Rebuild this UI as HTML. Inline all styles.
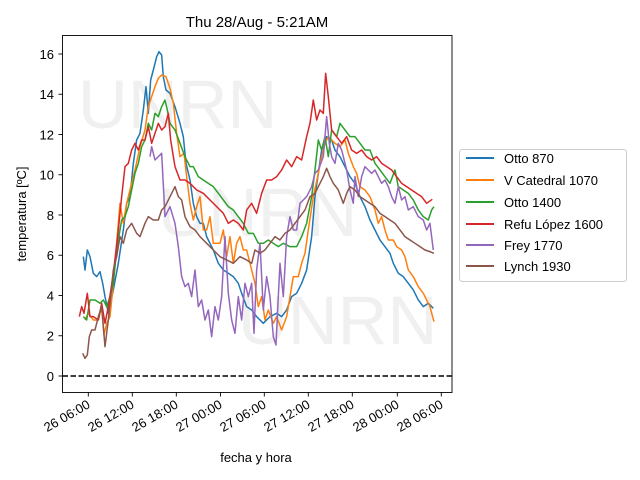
<!DOCTYPE html>
<html><head><meta charset="utf-8"><style>body{margin:0;background:#fff}svg{display:block}</style></head>
<body>
<svg width="640" height="480" xmlns="http://www.w3.org/2000/svg" font-family="Liberation Sans, DejaVu Sans, sans-serif">
<rect width="640" height="480" fill="#fff"/>
<g fill="#f0f0f0" font-size="69">
<text x="78" y="128">UNRN</text>
<text x="158" y="236">UNRN</text>
<text x="238" y="344">UNRN</text>
</g>
<g transform="translate(60,30) scale(0.3333)" fill="none" stroke-width="4.5" stroke-linejoin="round">
<polyline stroke="#1f77b4" points="70,680 75,720 82,660 90,680 100,730 110,740 120,725 128,760 135,800 145,850 160,780 175,700 190,600 200,520 210,500 220,400 230,330 240,310 250,240 258,170 265,250 272,150 280,120 290,80 297,65 305,75 310,140 318,180 330,190 345,230 360,280 370,320 378,400 390,450 400,520 410,560 420,580 430,580 440,620 450,640 460,660 475,700 490,720 505,730 520,740 535,760 545,790 560,830 575,840 590,860 610,880 630,860 650,850 665,860 680,840 695,800 710,790 725,760 740,720 755,620 765,500 775,430 785,360 800,320 815,330 825,360 840,380 855,410 870,440 885,460 900,500 915,530 930,570 945,600 960,630 975,650 990,670 1000,700 1015,730 1030,740 1045,760 1060,780 1075,810 1090,830 1105,820 1120,835"/>
<polyline stroke="#ff7f0e" points="75,870 85,850 100,870 115,870 125,830 132,915 140,880 150,860 160,760 170,640 180,520 190,580 200,520 210,480 225,420 240,350 255,300 265,230 275,200 285,170 295,145 305,135 318,140 330,175 340,220 350,310 360,380 372,370 380,440 390,520 400,570 410,530 420,500 430,600 440,600 450,560 460,640 470,640 480,640 490,600 500,680 510,620 520,700 530,640 540,620 550,660 560,660 575,720 585,760 595,830 605,800 615,870 625,840 640,880 650,860 665,900 680,860 690,800 700,740 715,740 725,700 735,670 745,600 760,500 775,430 785,380 795,340 805,320 815,330 825,340 840,350 855,330 865,370 880,410 890,430 900,470 915,480 930,500 945,540 955,580 965,560 975,600 985,630 1000,630 1010,650 1025,660 1035,680 1045,720 1060,740 1075,770 1090,790 1100,810 1110,830 1122,875"/>
<polyline stroke="#2ca02c" points="70,860 80,870 90,810 105,810 120,820 130,810 140,830 150,800 160,760 170,660 185,570 195,560 205,530 215,480 225,430 235,400 245,350 255,330 265,280 275,300 285,250 295,260 305,230 315,210 322,240 330,280 345,300 360,340 375,380 390,410 400,410 415,440 430,450 445,460 460,470 475,490 490,510 505,530 520,540 535,560 550,580 565,610 580,610 595,640 610,640 625,630 640,640 655,650 670,640 690,650 710,650 725,620 740,580 755,500 765,420 775,330 785,360 795,320 805,380 815,300 830,320 840,280 855,300 870,320 885,320 900,340 915,360 930,360 945,400 960,420 975,440 990,460 1005,420 1015,470 1030,480 1045,490 1060,510 1075,540 1090,560 1105,570 1115,540 1122,530"/>
<polyline stroke="#d62728" points="58,860 65,830 72,850 82,790 90,860 100,860 115,870 125,820 135,880 145,830 160,730 175,600 185,500 195,410 205,400 215,360 225,340 235,360 245,330 255,330 265,290 275,340 285,310 295,280 305,300 315,290 325,250 332,330 345,410 360,450 375,450 390,460 410,480 430,490 450,510 470,530 490,550 505,580 520,570 535,580 550,600 560,540 575,520 590,550 605,490 620,450 635,450 650,440 665,420 680,390 695,410 710,380 725,390 740,320 750,280 760,210 770,270 780,240 790,250 797,130 805,200 815,300 830,320 845,340 860,320 875,360 890,370 905,360 920,380 935,390 950,380 965,400 980,410 995,420 1010,440 1025,460 1040,470 1055,480 1070,490 1085,500 1100,520 1117,508"/>
<polyline stroke="#9467bd" points="270,380 275,350 285,390 295,380 305,370 315,560 330,530 345,580 355,650 365,740 375,770 385,760 395,800 405,720 415,830 425,810 435,870 445,840 455,920 465,830 475,870 485,800 495,620 505,790 515,870 525,910 535,800 545,870 555,760 565,800 575,760 582,910 590,720 600,640 610,840 620,740 630,800 640,920 648,945 655,800 660,700 670,800 680,620 690,560 700,600 710,600 720,520 730,510 740,500 755,470 765,430 775,420 790,380 800,260 808,340 815,380 825,400 835,340 845,360 860,420 870,480 880,520 885,440 895,500 905,440 915,410 925,420 935,430 945,420 955,440 965,460 975,450 985,470 995,500 1005,520 1015,470 1025,510 1035,500 1045,540 1060,530 1075,560 1090,570 1100,600 1110,580 1120,660"/>
<polyline stroke="#8c564b" points="68,970 75,985 82,975 88,920 95,900 105,900 115,860 125,830 135,950 145,870 160,720 170,680 180,620 190,640 200,600 215,580 230,610 240,620 255,580 265,560 280,570 295,570 305,540 315,530 330,500 345,470 355,500 365,510 375,560 390,590 405,600 420,620 440,640 460,660 480,680 500,690 520,700 540,680 560,690 575,700 585,660 600,670 615,660 630,640 645,620 660,630 675,610 690,600 705,580 720,560 735,540 750,500 765,490 780,460 790,440 800,415 810,440 820,460 835,480 850,520 860,490 870,470 885,480 900,500 915,510 930,520 945,530 960,550 975,560 990,570 1005,580 1020,600 1035,620 1050,630 1065,640 1080,650 1095,660 1110,665 1122,670"/>
</g>
<line x1="62.5" y1="376" x2="452" y2="376" stroke="#000" stroke-width="1.5" stroke-dasharray="5.5,2.5"/>
<rect x="62.5" y="35.5" width="389.5" height="357" fill="none" stroke="#000" stroke-width="0.9"/>
<g stroke="#000" stroke-width="0.9">
<line x1="58.5" x2="62.5" y1="376" y2="376"/><line x1="58.5" x2="62.5" y1="335.75" y2="335.75"/><line x1="58.5" x2="62.5" y1="295.5" y2="295.5"/><line x1="58.5" x2="62.5" y1="255.25" y2="255.25"/><line x1="58.5" x2="62.5" y1="215" y2="215"/><line x1="58.5" x2="62.5" y1="174.75" y2="174.75"/><line x1="58.5" x2="62.5" y1="134.5" y2="134.5"/><line x1="58.5" x2="62.5" y1="94.25" y2="94.25"/><line x1="58.5" x2="62.5" y1="54" y2="54"/>
<line x1="88.3" x2="88.3" y1="392.5" y2="396.5"/><line x1="132.3" x2="132.3" y1="392.5" y2="396.5"/><line x1="176.3" x2="176.3" y1="392.5" y2="396.5"/><line x1="220.5" x2="220.5" y1="392.5" y2="396.5"/><line x1="264.3" x2="264.3" y1="392.5" y2="396.5"/><line x1="308.3" x2="308.3" y1="392.5" y2="396.5"/><line x1="352.3" x2="352.3" y1="392.5" y2="396.5"/><line x1="397.3" x2="397.3" y1="392.5" y2="396.5"/><line x1="441.3" x2="441.3" y1="392.5" y2="396.5"/>
</g>
<g font-size="13" text-anchor="end" fill="#000">
<text x="54" y="381">0</text><text x="54" y="340.5">2</text><text x="54" y="300.5">4</text><text x="54" y="260">6</text><text x="54" y="220">8</text><text x="54" y="179.5">10</text><text x="54" y="139.5">12</text><text x="54" y="99">14</text><text x="54" y="59">16</text>
</g>
<g font-size="13" text-anchor="end" fill="#000">
<text transform="translate(91,407) rotate(-30)">26 06:00</text>
<text transform="translate(135,407) rotate(-30)">26 12:00</text>
<text transform="translate(179,407) rotate(-30)">26 18:00</text>
<text transform="translate(223,407) rotate(-30)">27 00:00</text>
<text transform="translate(267,407) rotate(-30)">27 06:00</text>
<text transform="translate(311,407) rotate(-30)">27 12:00</text>
<text transform="translate(355,407) rotate(-30)">27 18:00</text>
<text transform="translate(400,407) rotate(-30)">28 00:00</text>
<text transform="translate(444,407) rotate(-30)">28 06:00</text>
</g>
<text x="257" y="27" font-size="15" text-anchor="middle">Thu 28/Aug - 5:21AM</text>
<text x="256" y="462" font-size="13" text-anchor="middle">fecha y hora</text>
<text transform="translate(26,214) rotate(-90)" font-size="13" text-anchor="middle">temperatura [ºC]</text>
<rect x="459.5" y="149.5" width="167" height="132" rx="3" fill="#fff" stroke="#ccc" stroke-width="1"/>
<g stroke-width="2" font-size="13">
<line x1="466" x2="494" y1="158" y2="158" stroke="#1f77b4"/><text x="504" y="163">Otto 870</text>
<line x1="466" x2="494" y1="180" y2="180" stroke="#ff7f0e"/><text x="504" y="185">V Catedral 1070</text>
<line x1="466" x2="494" y1="202" y2="202" stroke="#2ca02c"/><text x="504" y="207">Otto 1400</text>
<line x1="466" x2="494" y1="224" y2="224" stroke="#d62728"/><text x="504" y="229">Refu López 1600</text>
<line x1="466" x2="494" y1="245" y2="245" stroke="#9467bd"/><text x="504" y="250">Frey 1770</text>
<line x1="466" x2="494" y1="266" y2="266" stroke="#8c564b"/><text x="504" y="271">Lynch 1930</text>
</g>
</svg>
</body></html>
